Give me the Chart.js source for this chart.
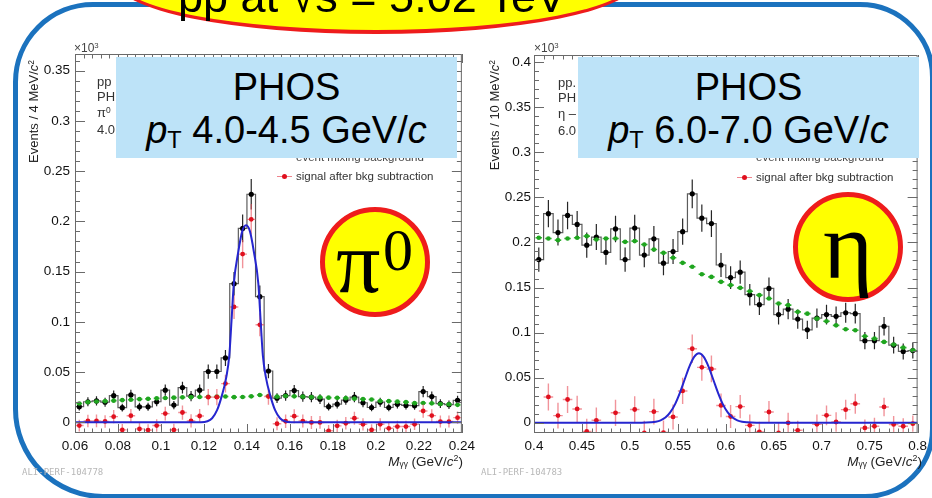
<!DOCTYPE html>
<html lang="en">
<head>
<meta charset="utf-8">
<title>PHOS π0 and η invariant mass spectra, pp at √s = 5.02 TeV</title>
<script src="https://cdn.jsdelivr.net/npm/chart.js@4.4.1/dist/chart.umd.min.js"></script>
<style>
html,body{margin:0;padding:0;background:#fff}
body{position:relative;width:932px;height:498px;overflow:hidden;font-family:"Liberation Sans",Arial,Helvetica,sans-serif;color:#000}
#frame{position:absolute;left:13px;top:2px;width:912px;height:487px;border:5px solid #1b72be;border-radius:80px 75px 70px 90px}
canvas{position:absolute;top:0}
#pi0Chart{left:0}
#etaChart{left:466px}
.lbl{position:absolute;white-space:nowrap}
.sub{position:relative;font-size:0.62em;top:0.22em}
.sup{position:relative;font-size:0.65em;top:-0.48em}
.box{position:absolute;top:57px;width:341px;height:101px;background:#bde3f8}
.badge{position:absolute;width:110px;height:110px;box-sizing:border-box;border:5px solid #ee1c1c;border-radius:50%;background:#ffff00}
#titleOval{position:absolute;left:116px;top:-72px;width:520px;height:106px;box-sizing:border-box;border:4px solid #ee1c1c;border-radius:50%;background:#ffff00}
.ytitle{position:absolute;width:160px;text-align:right;transform-origin:0 0;transform:rotate(-90deg);white-space:nowrap;font-size:13px;line-height:14px;color:#222}
</style>
</head>
<body>
<div id="frame"></div>
<canvas id="pi0Chart" width="480" height="498"></canvas>
<canvas id="etaChart" width="466" height="498"></canvas>
<script>
// ---------- π0 panel: 4 MeV/c² bins, counts in units of 10³ ----------
const pi0Mass = [0.062,0.066,0.070,0.074,0.078,0.082,0.086,0.090,0.094,0.098,
  0.102,0.106,0.110,0.114,0.118,0.122,0.126,0.130,0.134,0.138,
  0.142,0.146,0.150,0.154,0.158,0.162,0.166,0.170,0.174,0.178,
  0.182,0.186,0.190,0.194,0.198,0.202,0.206,0.210,0.214,0.218,
  0.222,0.226,0.230,0.234,0.238];
const pi0Real = [0.0155,0.0204,0.0212,0.0200,0.0265,0.0145,0.0272,0.0154,0.0154,0.0204,
  0.0319,0.0171,0.0345,0.0260,0.0319,0.0505,0.0505,0.0640,0.1380,0.1930,
  0.2270,0.1250,0.0510,0.0240,0.0265,0.0315,0.0255,0.0250,0.0230,0.0155,
  0.0180,0.0220,0.0250,0.0194,0.0147,0.0200,0.0147,0.0178,0.0168,0.0165,
  0.0305,0.0256,0.0186,0.0175,0.0218];
const pi0RealErr = [0.0039,0.0045,0.0046,0.0045,0.0051,0.0038,0.0052,0.0039,0.0039,0.0045,
  0.0056,0.0041,0.0059,0.0051,0.0056,0.0071,0.0071,0.0080,0.0117,0.0139,
  0.0151,0.0112,0.0071,0.0049,0.0051,0.0056,0.0050,0.0050,0.0048,0.0039,
  0.0042,0.0047,0.0050,0.0044,0.0038,0.0045,0.0038,0.0042,0.0041,0.0041,
  0.0055,0.0051,0.0043,0.0042,0.0047];
const pi0Mixed = [0.0187,0.0200,0.0207,0.0210,0.0215,0.0220,0.0224,0.0230,0.0233,0.0238,
  0.0242,0.0245,0.0248,0.0250,0.0252,0.0254,0.0255,0.0256,0.0250,0.0252,
  0.0258,0.0272,0.0262,0.0255,0.0262,0.0258,0.0255,0.0250,0.0248,0.0245,
  0.0243,0.0240,0.0235,0.0230,0.0226,0.0212,0.0210,0.0205,0.0200,0.0190,
  0.0192,0.0188,0.0182,0.0178,0.0173];
const pi0Signal = [-0.0033,0.0013,0.0013,0.0008,0.0056,-0.0076,0.0065,-0.0066,-0.0078,-0.0033,
  0.0086,-0.0076,0.0097,0.0013,0.0062,0.0250,0.0250,0.0385,0.1148,0.1674,
  0.2020,0.0970,0.0256,-0.0015,0.0010,0.0060,0.0012,-0.0002,-0.0002,-0.0085,
  -0.0036,-0.0010,0.0040,-0.0020,-0.0076,-0.0020,-0.0060,-0.0043,-0.0043,-0.0020,
  0.0112,0.0066,0.0007,0.0007,0.0046];
const pi0SignalErr = [0.0058,0.0062,0.0063,0.0062,0.0066,0.0058,0.0067,0.0059,0.0059,0.0062,
  0.0069,0.0060,0.0071,0.0066,0.0069,0.0081,0.0081,0.0088,0.0120,0.0140,
  0.0152,0.0114,0.0082,0.0064,0.0066,0.0069,0.0065,0.0065,0.0063,0.0058,
  0.0060,0.0063,0.0065,0.0061,0.0057,0.0061,0.0057,0.0059,0.0058,0.0058,
  0.0067,0.0064,0.0060,0.0059,0.0062];
// peak fit curve, sampled
const pi0FitMass = [0.060,0.100,0.1186,0.1216,0.1238,0.1261,0.1284,0.1304,0.1318,0.1328,0.1339,0.1360,0.1378,
  0.1396,0.1414,0.1432,0.1453,0.1464,0.1474,0.1488,0.1508,0.1531,0.1554,0.1576,0.1606,0.200,0.240];
const pi0FitVal = [0,0,0,0.001,0.004,0.012,0.027,0.045,0.0665,0.100,0.138,0.170,0.190,
  0.196,0.190,0.170,0.138,0.100,0.0665,0.045,0.027,0.012,0.004,0.001,0,0,0];
const pi0XRange = [0.06, 0.24];
const pi0YRange = [-0.0107, 0.3666];
const pi0XTicks = [0.06,0.08,0.10,0.12,0.14,0.16,0.18,0.20,0.22,0.24];
const pi0XLabels = ['0.06','0.08','0.1','0.12','0.14','0.16','0.18','0.2','0.22','0.24'];
const pi0YTicks = [0,0.05,0.10,0.15,0.20,0.25,0.30,0.35];
const pi0YLabels = ['0','0.05','0.1','0.15','0.2','0.25','0.3','0.35'];

// ---------- η panel: 10 MeV/c² bins, counts in units of 10³ ----------
const etaMass = [0.405,0.415,0.425,0.435,0.445,0.455,0.465,0.475,0.485,0.495,
  0.505,0.515,0.525,0.535,0.545,0.555,0.565,0.575,0.585,0.595,
  0.605,0.615,0.625,0.635,0.645,0.655,0.665,0.675,0.685,0.695,
  0.705,0.715,0.725,0.735,0.745,0.755,0.765,0.775,0.785,0.795];
const etaReal = [0.181,0.232,0.211,0.230,0.220,0.197,0.206,0.189,0.215,0.181,
  0.216,0.186,0.204,0.177,0.190,0.212,0.254,0.227,0.221,0.175,
  0.161,0.167,0.142,0.131,0.149,0.120,0.126,0.115,0.103,0.116,
  0.120,0.118,0.122,0.121,0.091,0.091,0.107,0.086,0.079,0.080];
const etaRealErr = [0.0134,0.0152,0.0145,0.0152,0.0148,0.0140,0.0144,0.0137,0.0147,0.0135,
  0.0147,0.0136,0.0143,0.0133,0.0138,0.0146,0.0159,0.0151,0.0149,0.0132,
  0.0127,0.0129,0.0119,0.0114,0.0122,0.0110,0.0112,0.0107,0.0101,0.0108,
  0.0110,0.0109,0.0110,0.0110,0.0095,0.0095,0.0103,0.0093,0.0089,0.0089];
const etaMixed = [0.2052,0.2044,0.2026,0.2044,0.2052,0.2070,0.2033,0.2044,0.2044,0.2007,
  0.2015,0.1978,0.1922,0.1885,0.1830,0.1774,0.1730,0.1648,0.1618,0.1563,
  0.1526,0.1496,0.1459,0.1415,0.1378,0.1322,0.1304,0.1230,0.1210,0.1155,
  0.1126,0.1080,0.1037,0.1026,0.0959,0.0933,0.0896,0.0867,0.0833,0.0803];
const etaSignal = [null,0.0285,0.0078,0.0257,0.0152,-0.0097,0.0026,null,0.0109,null,
  0.0146,-0.0115,0.0122,-0.0110,0.0063,0.0352,0.0820,0.0614,0.0596,0.0191,
  0.0068,0.0178,-0.0030,-0.0104,0.0118,-0.0115,-0.0002,-0.0085,null,-0.0019,
  0.0081,0.0007,0.0144,0.0210,-0.0059,-0.0040,0.0174,-0.0020,-0.0040,-0.0011];
const etaSignalErr = [0.0140,0.0150,0.0144,0.0150,0.0147,0.0140,0.0143,0.0137,0.0146,0.0135,
  0.0146,0.0136,0.0142,0.0133,0.0138,0.0145,0.0158,0.0150,0.0148,0.0132,
  0.0127,0.0129,0.0119,0.0114,0.0121,0.0110,0.0112,0.0107,0.0101,0.0108,
  0.0110,0.0109,0.0110,0.0110,0.0095,0.0095,0.0103,0.0093,0.0089,0.0089];
const etaFitMass = [0.400,0.500,0.512,0.522,0.527,0.532,0.537,0.542,0.547,0.552,0.557,0.562,0.567,
  0.572,0.577,0.582,0.587,0.592,0.597,0.602,0.607,0.612,0.617,0.622,0.632,0.700,0.800];
const etaFitVal = [0,0,0,0.0004,0.0010,0.0025,0.0056,0.0113,0.0203,0.0328,0.0476,0.0622,0.0730,
  0.0770,0.0730,0.0622,0.0476,0.0328,0.0203,0.0113,0.0056,0.0025,0.0010,0.0004,0,0,0];
const etaXRange = [0.4, 0.8];
const etaYRange = [-0.0115, 0.4081];
const etaXTicks = [0.40,0.45,0.50,0.55,0.60,0.65,0.70,0.75,0.80];
const etaXLabels = ['0.4','0.45','0.5','0.55','0.6','0.65','0.7','0.75','0.8'];
const etaYTicks = [0,0.05,0.10,0.15,0.20,0.25,0.30,0.35,0.40];
const etaYLabels = ['0','0.05','0.1','0.15','0.2','0.25','0.3','0.35','0.4'];

Chart.defaults.font.family = '"Liberation Sans", Arial, Helvetica, sans-serif';

const pts = (xs, ys) => xs.map((x, i) => ({x, y: ys[i]}));

// Error bars, frame and inward tick marks in the style of a ROOT canvas
const rootStyle = {
  id: 'rootStyle',
  beforeDatasetDraw(chart, args) {
    const ds = chart.data.datasets[args.index];
    if (!ds.errY && !ds.halfW) return;
    const {ctx, chartArea: a} = chart;
    const sx = chart.scales.x, sy = chart.scales.y;
    ctx.save();
    ctx.beginPath();
    ctx.rect(a.left, a.top, a.right - a.left, a.bottom - a.top);
    ctx.clip();
    ctx.strokeStyle = ds.barColor;
    ctx.lineWidth = ds.barWidth;
    ds.data.forEach((p, i) => {
      if (p.y == null) return;
      const px = sx.getPixelForValue(p.x), py = sy.getPixelForValue(p.y);
      ctx.beginPath();
      if (ds.errY) {
        ctx.moveTo(px, sy.getPixelForValue(p.y - ds.errY[i]));
        ctx.lineTo(px, sy.getPixelForValue(p.y + ds.errY[i]));
      }
      if (ds.halfW) {
        ctx.moveTo(sx.getPixelForValue(p.x - ds.halfW), py);
        ctx.lineTo(sx.getPixelForValue(p.x + ds.halfW), py);
      }
      ctx.stroke();
    });
    ctx.restore();
  },
  afterDraw(chart) {
    const o = chart.options.plugins.rootStyle;
    const {ctx, chartArea: a} = chart;
    const sx = chart.scales.x, sy = chart.scales.y;
    ctx.save();
    ctx.strokeStyle = '#6a6a6a';
    ctx.lineWidth = 1;
    ctx.strokeRect(a.left + 0.5, a.top + 0.5, a.right - a.left - 1, a.bottom - a.top - 1);
    ctx.beginPath();
    const isMajor = (v, majors) => majors.some(m => Math.abs(m - v) < 1e-7);
    const i0 = Math.ceil(sx.min / o.xMinor - 1e-6), i1 = Math.floor(sx.max / o.xMinor + 1e-6);
    for (let i = i0; i <= i1; i++) {
      const v = i * o.xMinor;
      const len = isMajor(v, o.xMajor) ? 9 : 4.5;
      const px = Math.round(sx.getPixelForValue(v)) + 0.5;
      ctx.moveTo(px, a.bottom); ctx.lineTo(px, a.bottom - len);
      ctx.moveTo(px, a.top); ctx.lineTo(px, a.top + len);
    }
    const j0 = Math.ceil(sy.min / o.yMinor - 1e-6), j1 = Math.floor(sy.max / o.yMinor + 1e-6);
    for (let j = j0; j <= j1; j++) {
      const v = j * o.yMinor;
      const len = isMajor(v, o.yMajor) ? 10 : 5;
      const py = Math.round(sy.getPixelForValue(v)) + 0.5;
      ctx.moveTo(a.left, py); ctx.lineTo(a.left + len, py);
      ctx.moveTo(a.right, py); ctx.lineTo(a.right - len, py);
    }
    ctx.stroke();
    ctx.restore();
  }
};

function massChart(id, c) {
  const binW = c.mass[1] - c.mass[0];
  const hist = [{x: c.xRange[0], y: c.real[0]}, ...pts(c.mass, c.real),
                {x: c.xRange[1], y: c.real[c.real.length - 1]}];
  return new Chart(document.getElementById(id), {
    type: 'scatter',
    data: {datasets: [
      {type: 'line', label: 'fit', data: pts(c.fitMass, c.fitVal), showLine: true,
       borderColor: '#2626cf', borderWidth: 2, pointRadius: 0, cubicInterpolationMode: 'monotone', order: 0},
      {label: 'signal after bkg subtraction', data: pts(c.mass, c.signal), errY: c.signalErr, halfW: binW / 2,
       barColor: 'rgba(232,80,92,0.62)', barWidth: 1.4, pointRadius: 2.4, pointBorderWidth: 0,
       backgroundColor: '#e0101e', order: 1},
      {label: 'event mixing background', data: pts(c.mass, c.mixed), halfW: binW * 0.34,
       barColor: '#3cb43c', barWidth: 1.6, pointRadius: 2.3, pointBorderWidth: 0,
       backgroundColor: '#1fa51f', order: 2},
      {label: 'real events', data: pts(c.mass, c.real), errY: c.realErr,
       barColor: '#262626', barWidth: 1.2, pointRadius: 2.6, pointBorderWidth: 0,
       backgroundColor: '#000', order: 3},
      {type: 'line', label: 'histogram', data: hist, showLine: true, stepped: 'middle',
       borderColor: '#5c5c5c', borderWidth: 1.2, pointRadius: 0, order: 4}
    ]},
    options: {
      responsive: false, animation: false, devicePixelRatio: 1, events: [],
      layout: {autoPadding: false, padding: {left: 0, top: c.padTop, right: c.padRight, bottom: 0}},
      plugins: {
        legend: {display: false}, tooltip: {enabled: false},
        rootStyle: {xMajor: c.xTicks, xMinor: c.xMinor, yMajor: c.yTicks, yMinor: 0.01}
      },
      scales: {
        x: {
          type: 'linear', min: c.xRange[0], max: c.xRange[1],
          afterBuildTicks: s => { s.ticks = c.xTicks.map(v => ({value: v})); },
          afterFit: s => { s.height = 498 - c.bottom; },
          grid: {display: false, drawTicks: false}, border: {display: false},
          ticks: {callback: (v, i) => c.xLabels[i], padding: 5, color: '#111',
                  font: {size: 13.5}, maxRotation: 0, autoSkip: false}
        },
        y: {
          type: 'linear', min: c.yRange[0], max: c.yRange[1],
          afterBuildTicks: s => { s.ticks = c.yTicks.map(v => ({value: v})); },
          afterFit: s => { s.width = c.axisLeft; },
          grid: {display: false, drawTicks: false}, border: {display: false},
          ticks: {callback: (v, i) => c.yLabels[i], padding: c.yPad, color: '#111',
                  font: {size: 13.5}, autoSkip: false}
        }
      }
    },
    plugins: [rootStyle]
  });
}

massChart('pi0Chart', {
  mass: pi0Mass, real: pi0Real, realErr: pi0RealErr, mixed: pi0Mixed,
  signal: pi0Signal, signalErr: pi0SignalErr, fitMass: pi0FitMass, fitVal: pi0FitVal,
  xRange: pi0XRange, yRange: pi0YRange, xTicks: pi0XTicks, xLabels: pi0XLabels,
  yTicks: pi0YTicks, yLabels: pi0YLabels, xMinor: 0.004,
  padTop: 54, padRight: 17, bottom: 433, axisLeft: 75, yPad: 5
});
massChart('etaChart', {
  mass: etaMass, real: etaReal, realErr: etaRealErr, mixed: etaMixed,
  signal: etaSignal, signalErr: etaSignalErr, fitMass: etaFitMass, fitVal: etaFitVal,
  xRange: etaXRange, yRange: etaYRange, xTicks: etaXTicks, xLabels: etaXLabels,
  yTicks: etaYTicks, yLabels: etaYLabels, xMinor: 0.01,
  padTop: 55, padRight: 9, bottom: 433, axisLeft: 68, yPad: 3
});

// ---------- text and decorations ----------
function put(html, x, baseline, size, o = {}) {
  const el = document.createElement('div');
  el.className = 'lbl';
  el.innerHTML = html;
  const asc = o.serif ? 0.8375 : 0.8465;
  el.style.top = (baseline - asc * size) + 'px';
  el.style.fontSize = size + 'px';
  el.style.lineHeight = size + 'px';
  if (o.serif) el.style.fontFamily = '"Liberation Serif","Times New Roman",serif';
  if (o.font) el.style.fontFamily = o.font;
  if (o.color) el.style.color = o.color;
  if (o.align === 'right') { el.style.right = (932 - x) + 'px'; }
  else if (o.align === 'center') { el.style.left = x + 'px'; el.style.transform = 'translateX(-50%)'; }
  else el.style.left = x + 'px';
  document.body.appendChild(el);
  return el;
}
function block(cls, styles, id) {
  const el = document.createElement('div');
  el.className = cls;
  if (id) el.id = id;
  Object.assign(el.style, styles);
  document.body.appendChild(el);
  return el;
}
function yTitle(html, xCenter, topEnd) {
  const el = document.createElement('div');
  el.className = 'ytitle';
  el.innerHTML = html;
  el.style.left = (xCenter - 7) + 'px';
  el.style.top = (topEnd + 160) + 'px';
  document.body.appendChild(el);
}

// axis decorations
put('×10<span class="sup">3</span>', 74, 52, 12, {color: '#444'});
put('×10<span class="sup">3</span>', 534, 52, 12, {color: '#444'});
yTitle('Events / 4 MeV/<i>c</i><span class="sup">2</span>', 34, 60);
yTitle('Events / 10 MeV/<i>c</i><span class="sup">2</span>', 495, 60);
put('<i>M</i><span class="sub">γγ</span> (GeV/<i>c</i><span class="sup">2</span>)', 463, 466, 13.5, {align: 'right', color: '#222'});
put('<i>M</i><span class="sub">γγ</span> (GeV/<i>c</i><span class="sup">2</span>)', 922, 466, 13.5, {align: 'right', color: '#222'});
put('ALI-PERF-104778', 22, 476, 9, {font: '"DejaVu Sans Mono",monospace', color: '#b8b8b8'});
put('ALI-PERF-104783', 481, 476, 9, {font: '"DejaVu Sans Mono",monospace', color: '#b8b8b8'});

// panel legend text, partly covered by the info boxes
[['pp', 86], ['PH', 101], ['π<span class="sup">0</span>', 117], ['4.0', 134]].forEach(([t, b]) => put(t, 97, b, 13, {color: '#333'}));
[['pp.', 87], ['PH', 102], ['η –', 118], ['6.0', 135]].forEach(([t, b]) => put(t, 558, b, 13, {color: '#333'}));
put('event mixing background', 296, 162, 11.5, {color: '#444'});
put('event mixing background', 756, 162, 11.5, {color: '#444'});
put('signal after bkg subtraction', 296, 181, 11.5, {color: '#333'});
put('signal after bkg subtraction', 756, 182, 11.5, {color: '#333'});
[[277, 176.5], [737, 177.5]].forEach(([x, y]) => {
  block('lbl', {left: x + 'px', top: (y - 0.75) + 'px', width: '15px', height: '1.5px', background: 'rgba(232,80,92,0.7)'});
  block('lbl', {left: (x + 5) + 'px', top: (y - 2.5) + 'px', width: '5px', height: '5px', borderRadius: '50%', background: '#e0101e'});
});

// info boxes
block('box', {left: '116px'});
block('box', {left: '578px'});
put('PHOS', 286.5, 100, 38, {align: 'center'});
put('<i>p</i><span class="sub">T</span> 4.0-4.5 GeV/<i>c</i>', 286.5, 143, 38, {align: 'center'});
put('PHOS', 748.5, 100, 38, {align: 'center'});
put('<i>p</i><span class="sub">T</span> 6.0-7.0 GeV/<i>c</i>', 748.5, 143, 38, {align: 'center'});

// meson badges
block('badge', {left: '320px', top: '207px'});
block('badge', {left: '793px', top: '192px'});
put('π', 336, 293, 88, {serif: true});
put('0', 383, 270, 60, {serif: true});
put('η', 823, 278, 96, {serif: true});

// collision system banner
block('', {}, 'titleOval');
put('pp at √s = 5.02 TeV', 372, 12, 45, {align: 'center'});
</script>
</body>
</html>
